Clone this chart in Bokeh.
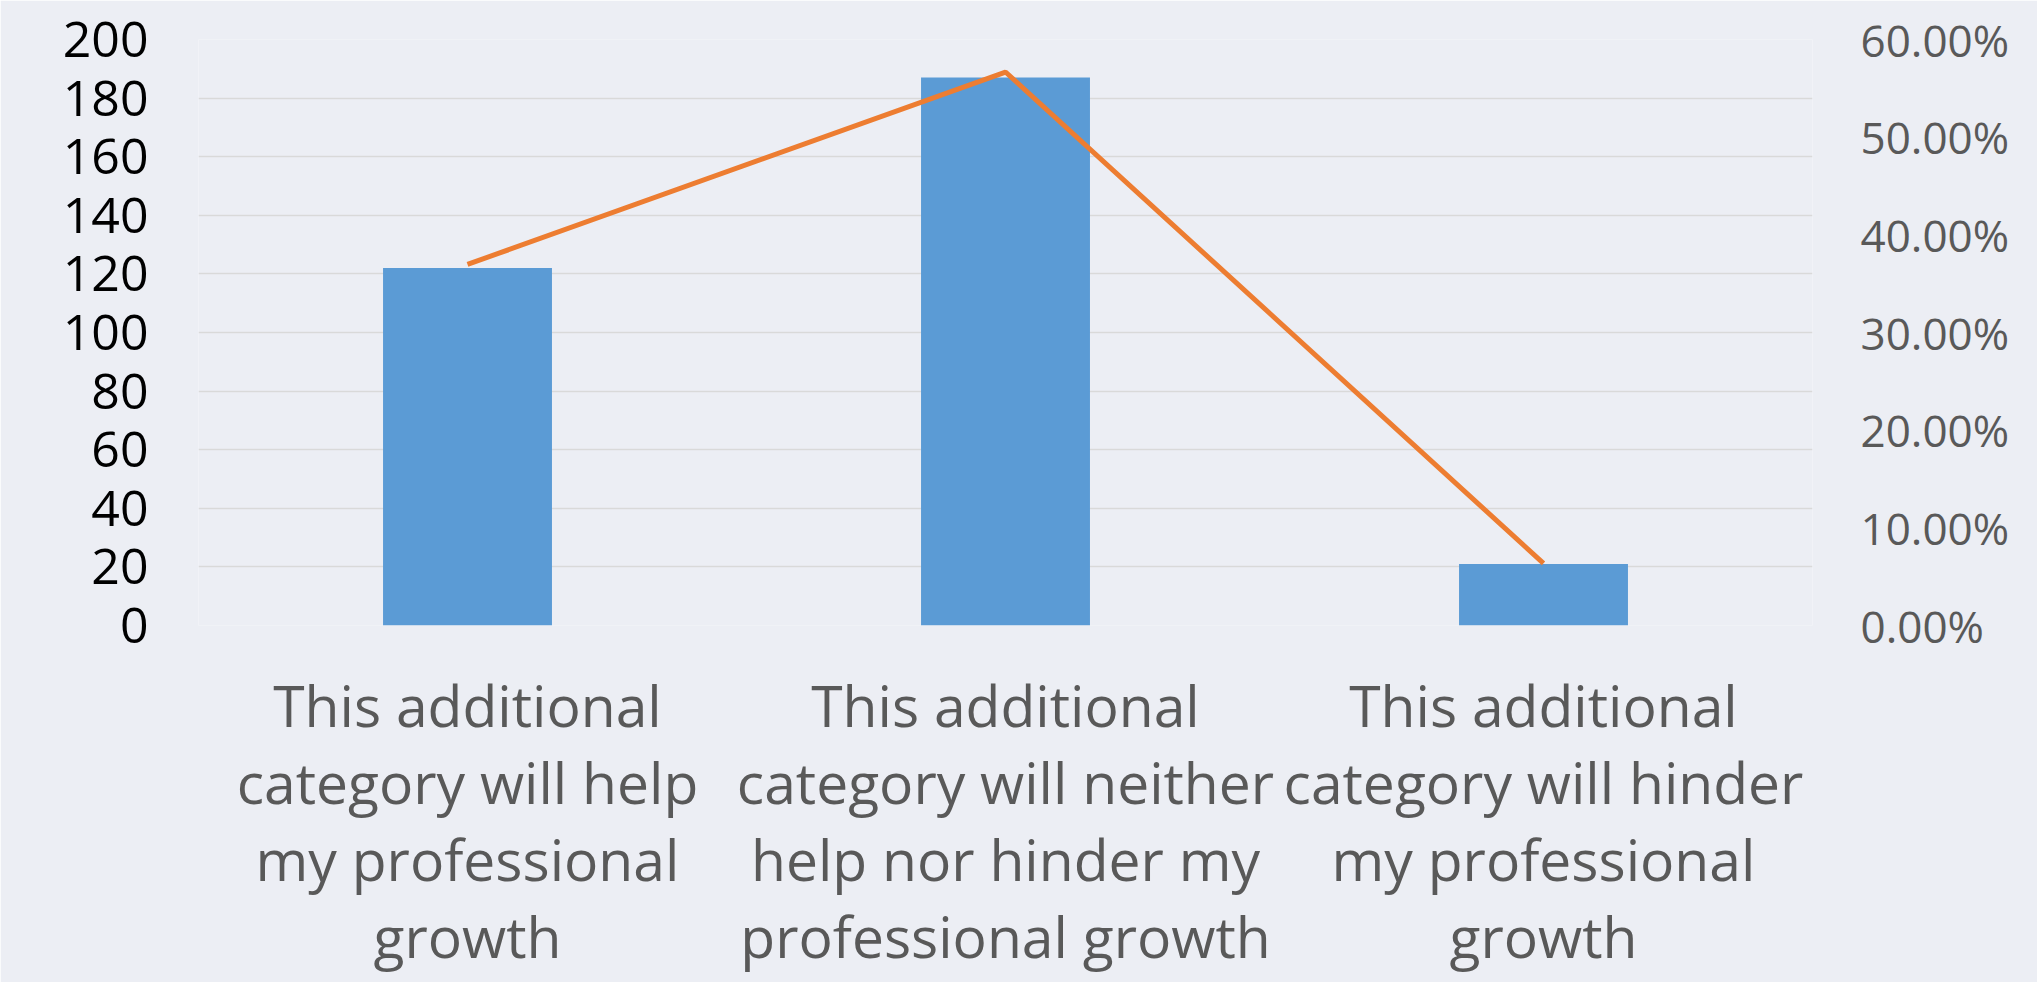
from bokeh.plotting import figure
from bokeh.models import Range1d, LinearAxis, FixedTicker, NumeralTickFormatter, ColumnDataSource
from bokeh.embed import file_html
from bokeh.resources import INLINE

categories = [
    "This additional\ncategory will help\nmy professional\ngrowth",
    "This additional\ncategory will neither\nhelp nor hinder my\nprofessional growth",
    "This additional\ncategory will hinder\nmy professional\ngrowth",
]
counts = [122, 187, 21]
percents = [0.3697, 0.5667, 0.0636]
left_ticks = [0, 20, 40, 60, 80, 100, 120, 140, 160, 180, 200]
right_ticks = [0.0, 0.1, 0.2, 0.3, 0.4, 0.5, 0.6]

BG = "#ECEEF4"
FONT = "Open Sans"

source = ColumnDataSource(dict(cat=categories, count=counts, pct=percents))

p = figure(
    x_range=categories,
    y_range=Range1d(0, 200),
    width=2037, height=982,
    output_backend="svg", toolbar_location=None,
    min_border_left=198, min_border_right=225,
    min_border_top=39, min_border_bottom=357,
)
p.extra_y_ranges = {"pct": Range1d(0, 0.6)}

p.background_fill_color = BG
p.border_fill_color = BG
p.outline_line_color = None

p.vbar(x="cat", top="count", width=0.314, source=source, color="#5B9BD5", line_color=None)
p.line(x="cat", y="pct", source=source, y_range_name="pct", line_color="#ED7D31", line_width=5)

# left axis
ax = p.yaxis[0]
ax.ticker = FixedTicker(ticks=left_ticks)
ax.axis_line_color = None
ax.major_tick_line_color = None
ax.minor_tick_line_color = None
ax.major_label_text_font = FONT
ax.major_label_text_font_size = "50px"
ax.major_label_text_color = "#000000"
ax.major_label_standoff = 44

# right axis
rax = LinearAxis(y_range_name="pct", ticker=FixedTicker(ticks=right_ticks),
                 formatter=NumeralTickFormatter(format="0.00%"))
rax.axis_line_color = None
rax.major_tick_line_color = None
rax.minor_tick_line_color = None
rax.major_label_text_font = FONT
rax.major_label_text_font_size = "44px"
rax.major_label_text_color = "#595959"
rax.major_label_standoff = 42
p.add_layout(rax, "right")

# bottom (category) axis
bx = p.xaxis[0]
bx.axis_line_color = None
bx.major_tick_line_color = None
bx.minor_tick_line_color = None
bx.major_label_text_font = FONT
bx.major_label_text_font_size = "57px"
bx.major_label_text_color = "#595959"
bx.major_label_text_line_height = 0.99
bx.major_label_standoff = 34

p.xgrid.grid_line_color = None
p.ygrid.ticker = FixedTicker(ticks=left_ticks)
p.ygrid.grid_line_color = "#D9D9D9"
p.ygrid.grid_line_width = 1.7

open("out.html", "w").write(file_html(p, INLINE))
